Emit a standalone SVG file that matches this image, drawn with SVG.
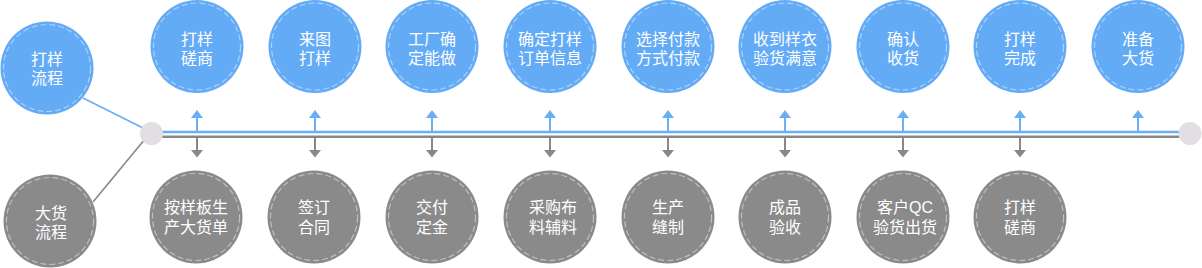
<svg xmlns="http://www.w3.org/2000/svg" width="1202" height="268" viewBox="0 0 1202 268">
<style>
.blue{fill:#64abf6}
.gray{fill:#8a8a8a}
.ring{fill:none;stroke:#ffffff;stroke-opacity:0.45;stroke-width:1.2;stroke-dasharray:6 3}
.t{fill:#ffffff;font-family:"Liberation Sans","Noto Sans CJK SC",sans-serif;font-size:16px;text-anchor:middle}
.dot{fill:#e1dfe1}
.bl{stroke:#6aaef6;stroke-width:2.6;fill:none}
.gl{stroke:#888888;stroke-width:2.6;fill:none}
.bd{stroke:#6aaef6;stroke-width:1.6;fill:none}
.gd{stroke:#888888;stroke-width:1.6;fill:none}
.bs{stroke:#6aaef6;stroke-width:2;fill:none}
.gs{stroke:#888888;stroke-width:2;fill:none}
.bh{fill:#6aaef6}
.gh{fill:#888888}
</style>
<defs>
<g id="upA"><path class="bs" d="M0,117 V131"/><path class="bh" d="M0,110 L6,118 L-6,118 Z"/></g>
<g id="dnA"><path class="gs" d="M0,137 V151"/><path class="gh" d="M0,157.5 L6,150 L-6,150 Z"/></g>
</defs>
<g id="connectors">
<path class="bd" d="M83,98 L145,129"/>
<path class="gd" d="M93,202 L145,139"/>
<path class="bl" d="M152,132 H1190"/>
<path class="gl" d="M152,136.8 H1190"/>
<use href="#upA" x="197"/><use href="#upA" x="315"/><use href="#upA" x="432"/><use href="#upA" x="550"/><use href="#upA" x="668"/><use href="#upA" x="785"/><use href="#upA" x="903"/><use href="#upA" x="1020"/><use href="#upA" x="1138"/>
<use href="#dnA" x="197"/><use href="#dnA" x="315"/><use href="#dnA" x="432"/><use href="#dnA" x="550"/><use href="#dnA" x="668"/><use href="#dnA" x="785"/><use href="#dnA" x="903"/><use href="#dnA" x="1020"/>
</g>
<g id="junction-left"><circle class="dot" cx="151.5" cy="133.5" r="11.5"/></g>
<g id="junction-right"><circle class="dot" cx="1190" cy="133.5" r="11.5"/></g>
<g id="sample-flow"><circle class="blue" cx="47" cy="68" r="46.5"/><circle class="ring" cx="47" cy="68" r="43.5"/><text class="t"><tspan x="47" y="65">打样</tspan><tspan x="47" y="84">流程</tspan></text></g>
<g id="bulk-flow"><circle class="gray" cx="50" cy="221" r="46.5"/><circle class="ring" cx="50" cy="221" r="43.5"/><text class="t"><tspan x="51" y="219">大货</tspan><tspan x="51" y="238">流程</tspan></text></g>
<g id="t1"><circle class="blue" cx="197" cy="46.5" r="46.5"/><circle class="ring" cx="197" cy="46.5" r="43.5"/><text class="t"><tspan x="197" y="45">打样</tspan><tspan x="197" y="64">磋商</tspan></text></g>
<g id="t2"><circle class="blue" cx="315" cy="46.5" r="46.5"/><circle class="ring" cx="315" cy="46.5" r="43.5"/><text class="t"><tspan x="315" y="45">来图</tspan><tspan x="315" y="64">打样</tspan></text></g>
<g id="t3"><circle class="blue" cx="432" cy="46.5" r="46.5"/><circle class="ring" cx="432" cy="46.5" r="43.5"/><text class="t"><tspan x="432" y="45">工厂确</tspan><tspan x="432" y="64">定能做</tspan></text></g>
<g id="t4"><circle class="blue" cx="550" cy="46.5" r="46.5"/><circle class="ring" cx="550" cy="46.5" r="43.5"/><text class="t"><tspan x="550" y="45">确定打样</tspan><tspan x="550" y="64">订单信息</tspan></text></g>
<g id="t5"><circle class="blue" cx="668" cy="46.5" r="46.5"/><circle class="ring" cx="668" cy="46.5" r="43.5"/><text class="t"><tspan x="668" y="45">选择付款</tspan><tspan x="668" y="64">方式付款</tspan></text></g>
<g id="t6"><circle class="blue" cx="785" cy="46.5" r="46.5"/><circle class="ring" cx="785" cy="46.5" r="43.5"/><text class="t"><tspan x="785" y="45">收到样衣</tspan><tspan x="785" y="64">验货满意</tspan></text></g>
<g id="t7"><circle class="blue" cx="903" cy="46.5" r="46.5"/><circle class="ring" cx="903" cy="46.5" r="43.5"/><text class="t"><tspan x="903" y="45">确认</tspan><tspan x="903" y="64">收货</tspan></text></g>
<g id="t8"><circle class="blue" cx="1020" cy="46.5" r="46.5"/><circle class="ring" cx="1020" cy="46.5" r="43.5"/><text class="t"><tspan x="1020" y="45">打样</tspan><tspan x="1020" y="64">完成</tspan></text></g>
<g id="t9"><circle class="blue" cx="1138" cy="46.5" r="46.5"/><circle class="ring" cx="1138" cy="46.5" r="43.5"/><text class="t"><tspan x="1138" y="45">准备</tspan><tspan x="1138" y="64">大货</tspan></text></g>
<g id="b1"><circle class="gray" cx="196" cy="217" r="46.5"/><circle class="ring" cx="196" cy="217" r="43.5"/><text class="t"><tspan x="196" y="213">按样板生</tspan><tspan x="196" y="233">产大货单</tspan></text></g>
<g id="b2"><circle class="gray" cx="314" cy="217" r="46.5"/><circle class="ring" cx="314" cy="217" r="43.5"/><text class="t"><tspan x="314" y="213">签订</tspan><tspan x="314" y="233">合同</tspan></text></g>
<g id="b3"><circle class="gray" cx="432" cy="217" r="46.5"/><circle class="ring" cx="432" cy="217" r="43.5"/><text class="t"><tspan x="432" y="213">交付</tspan><tspan x="432" y="233">定金</tspan></text></g>
<g id="b4"><circle class="gray" cx="550" cy="217" r="46.5"/><circle class="ring" cx="550" cy="217" r="43.5"/><text class="t"><tspan x="553" y="213">采购布</tspan><tspan x="553" y="233">料辅料</tspan></text></g>
<g id="b5"><circle class="gray" cx="668" cy="217" r="46.5"/><circle class="ring" cx="668" cy="217" r="43.5"/><text class="t"><tspan x="668" y="213">生产</tspan><tspan x="668" y="233">缝制</tspan></text></g>
<g id="b6"><circle class="gray" cx="785" cy="217" r="46.5"/><circle class="ring" cx="785" cy="217" r="43.5"/><text class="t"><tspan x="785" y="213">成品</tspan><tspan x="785" y="233">验收</tspan></text></g>
<g id="b7"><circle class="gray" cx="903" cy="217" r="46.5"/><circle class="ring" cx="903" cy="217" r="43.5"/><text class="t"><tspan x="905" y="213">客户QC</tspan><tspan x="905" y="233">验货出货</tspan></text></g>
<g id="b8"><circle class="gray" cx="1020" cy="217" r="46.5"/><circle class="ring" cx="1020" cy="217" r="43.5"/><text class="t"><tspan x="1020" y="213">打样</tspan><tspan x="1020" y="233">磋商</tspan></text></g>
</svg>
